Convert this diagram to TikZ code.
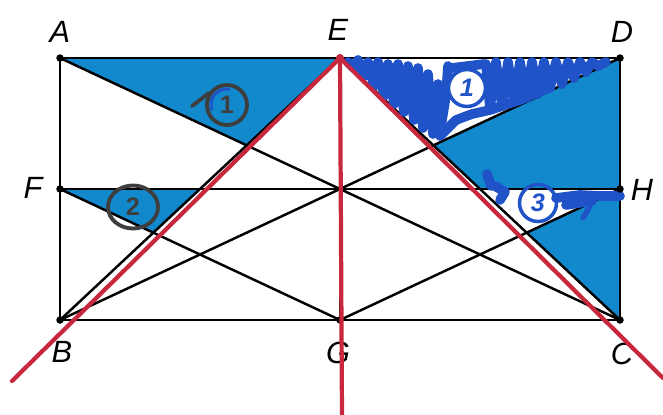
\documentclass[tikz,border=0pt]{standalone}
\usepackage{fontspec}
\setmainfont{Liberation Sans}
\usepackage{xcolor}
\usepackage{tikz}
\usetikzlibrary{calc, shapes.geometric}

\definecolor{shade}{RGB}{18,137,205}
\definecolor{penred}{RGB}{200,40,62}
\definecolor{inkblue}{RGB}{32,82,200}
\definecolor{pengray}{RGB}{62,62,62}

\begin{document}
\begin{tikzpicture}[
    x=0.02cm, y=-0.02cm,
    edge/.style    = {line width=1.4pt, black, line cap=round},
    redline/.style = {line width=2.4pt, draw=penred, line cap=round},
    vtx/.style     = {circle, fill=black, inner sep=0pt, minimum size=0.15cm},
    lbl/.style     = {font=\fontsize{17.5}{20}\selectfont\itshape},
    region/.style  = {fill=shade},
    scrib/.style   = {draw=inkblue, line width=5.5pt, line cap=round, line join=round},
    inkring/.style = {circle, draw=inkblue, fill=white, line width=2pt,
                      minimum size=0.74cm, inner sep=0pt, text=inkblue,
                      font=\bfseries\itshape\Large},
    grayring/.style= {circle, draw=pengray, line width=2.2pt, minimum size=0.8cm,
                      inner sep=0pt, text=pengray, font=\bfseries\Large}
]

\useasboundingbox (0,0) rectangle (663,414);

%% Points of the rectangle
\coordinate (A) at (60,58);
\coordinate (E) at (340,58);
\coordinate (D) at (620,58);
\coordinate (F) at (60,189);
\coordinate (H) at (620,189);
\coordinate (B) at (60,320);
\coordinate (G) at (340,320);
\coordinate (C) at (620,320);

%% Crossings with EB and EC
\coordinate (P1) at ($(A)!1/3!(C)$);
\coordinate (Q1) at ($(E)!1/2!(B)$);
\coordinate (R1) at ($(E)!2/3!(B)$);
\coordinate (P2) at ($(D)!1/3!(B)$);
\coordinate (Q2) at ($(E)!1/2!(C)$);
\coordinate (R2) at ($(E)!2/3!(C)$);

%% Shaded regions
\fill[region] (A) -- (E) -- (P1) -- cycle;
\fill[region] (F) -- (Q1) -- (R1) -- cycle;
\fill[region] (P2) -- (D) -- (H) -- (Q2) -- cycle;
\fill[region] (R2) -- (H) -- (C) -- cycle;

%% Black lines
\draw[edge] (A) -- (D) -- (C) -- (B) -- cycle;
\draw[edge] (F) -- (H);
\draw[edge] (E) -- (G);
\draw[edge] (A) -- (C);
\draw[edge] (B) -- (D);
\draw[edge] (E) -- (B);
\draw[edge] (E) -- (C);
\draw[edge] (F) -- (G);
\draw[edge] (G) -- (H);

%% Scribbles, region 1 (right)
\draw[scrib] (348,62) -- (354,68) -- (358,60) -- (364,76) -- (368,62) -- (374,86)
    -- (378,62) -- (384,96) -- (388,64) -- (394,104) -- (398,64) -- (404,112)
    -- (408,66) -- (414,120) -- (418,68) -- (423,128) -- (428,74) -- (433,134)
    -- (438,84) -- (440,132) -- (446,96) -- (448,66);
\draw[scrib] (440,136) -- (456,120) -- (472,114) -- (490,110) -- (520,100) -- (548,88);
\draw[scrib] (486,64) -- (490,108) -- (496,62) -- (502,106) -- (508,62) -- (514,102)
    -- (520,62) -- (526,98) -- (532,62) -- (538,94) -- (544,62) -- (550,88)
    -- (556,62) -- (562,84) -- (568,62) -- (574,78) -- (580,62) -- (586,72)
    -- (592,62) -- (598,66) -- (606,62);
\draw[scrib] (452,68) -- (484,64);
\node[inkring] (n1r) at (467,88) {1};

%% Scribbles, region 3 (right)
\draw[scrib] (487,174) -- (491,186);
\draw[scrib] (495,186) -- (505,192) -- (500,200);
\draw[scrib] (556,198) -- (580,195) -- (600,196) -- (620,196);
\draw[scrib] (566,205) -- (592,201);
\draw[scrib, line width=3pt] (583,218) -- (590,206);
\node[inkring, fill=none] (n3r) at (538,203) {3};

%% Pen marks, left
\node[grayring] (n1l) at (227,105) {1};
\draw[inkblue, line width=1.6pt] ([shift={(200:0.32cm)}]n1l.center)
    arc[start angle=200, end angle=80, radius=0.32cm];
\draw[pengray, line width=2.2pt, line cap=round] (192,106) -- (209,93);
\node[grayring, ellipse, minimum width=1cm, minimum height=0.86cm] (n2l) at (133,207) {2};

%% Vertices
\foreach \p in {A,E,D,F,H,B,G,C}
    \node[vtx] at (\p) {};

%% Letters
\node[lbl] (lA) at (60,32)  {A};
\node[lbl] (lE) at (338,30) {E};
\node[lbl] (lD) at (622,32) {D};
\node[lbl] (lF) at (33,188) {F};
\node[lbl] (lH) at (642,190){H};
\node[lbl] (lB) at (62,352) {B};
\node[lbl] (lG) at (338,353){G};
\node[lbl] (lC) at (622,354){C};

%% Red lines from E
\coordinate (redL) at (12,381);
\coordinate (redR) at (663,378);
\coordinate (redV) at (342,416);
\draw[redline] (E) -- (redL);
\draw[redline] (E) -- (redR);
\draw[redline] (E) -- (redV);
\fill[penred] (E) circle[radius=0.08cm];

\end{tikzpicture}
\end{document}
